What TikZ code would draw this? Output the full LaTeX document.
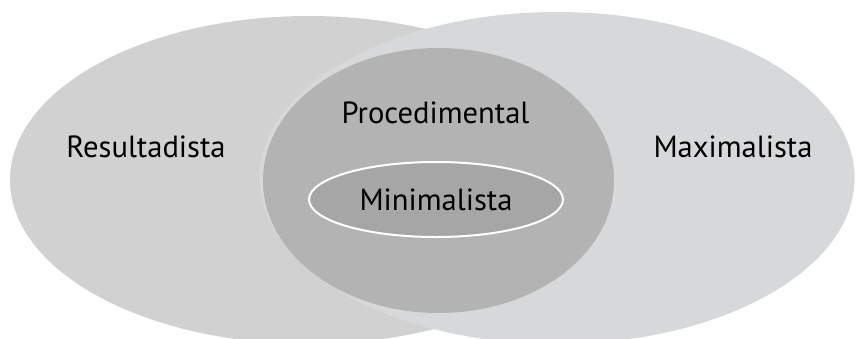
\documentclass[tikz,border=0pt]{standalone}
\usepackage{fontspec}
\setmainfont{PT Sans}
\usetikzlibrary{shapes.geometric}
\definecolor{leftgray}{HTML}{D1D1D1}
\definecolor{rightgray}{HTML}{D7D8DA}
\definecolor{midgray}{HTML}{B3B3B3}
\definecolor{coregray}{HTML}{A6A6A6}

\begin{document}
\begin{tikzpicture}[x=0.5pt,y=-0.5pt,
  blob/.style={ellipse,inner sep=0pt,outer sep=0pt},
  tag/.style={font=\fontsize{15.3}{17}\selectfont,inner sep=0pt,text=black}]
\useasboundingbox (0,0) rectangle (857,338);
\node[blob,fill=leftgray,minimum width=299pt,minimum height=164pt] (resultadista) at (309,180) {};
\node[blob,fill=rightgray,minimum width=297.6pt,minimum height=166pt] (maximalista) at (557,178) {};
\node[blob,fill=midgray,minimum width=175.5pt,minimum height=132.5pt] (procedimental) at (438.5,180.5) {};
\node[blob,fill=coregray,draw=white,line width=1pt,minimum width=127pt,minimum height=37.5pt] (minimalista) at (436,199.5) {};
\node[tag] (resultadista-t) at (146,147) {Resultadista};
\node[tag] (maximalista-t) at (733,147) {Maximalista};
\node[tag] (procedimental-t) at (435.5,113) {Procedimental};
\node[tag] (minimalista-t) at (436,200) {Minimalista};
\end{tikzpicture}
\end{document}
